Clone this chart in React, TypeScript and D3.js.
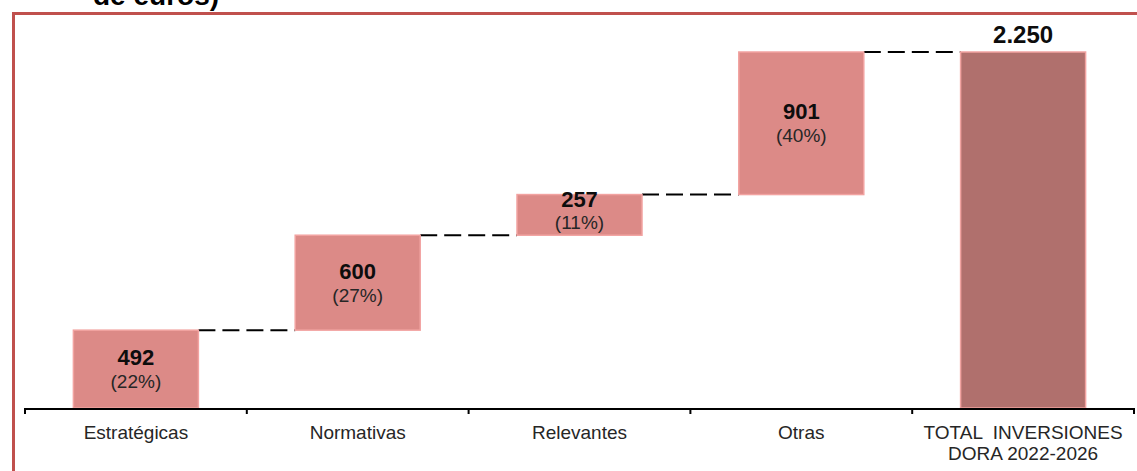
import React from 'react';
import * as d3 from 'd3';

// categories and values
const categories = ['Estratégicas', 'Normativas', 'Relevantes', 'Otras', 'TOTAL'];
const stepValues = [492, 600, 257, 901];
const stepShares = ['(22%)', '(27%)', '(11%)', '(40%)'];
const totalValue = 2250;
const categoryLabels = [['Estratégicas'], ['Normativas'], ['Relevantes'], ['Otras'], ['TOTAL  INVERSIONES', 'DORA 2022-2026']];
const titleTail = 'de euros)';

const W = 1137;
const H = 471;
const baseY = 408;
const fontFamily = '"Liberation Sans", Arial, sans-serif';

const esLocale = d3.formatLocale({ decimal: ',', thousands: '.', grouping: [3], currency: ['', '€'] });
const fmtTotal = esLocale.format(',d');

const App = () => {
    const x = d3
        .scaleBand<string>()
        .domain(categories)
        .range([25, 1134])
        .paddingInner(0.4364)
        .paddingOuter(0.2182);

    const y = d3.scaleLinear().domain([0, totalValue]).range([baseY, 52]);

    // cumulative start / end for each floating bar
    let running = 0;
    const steps = stepValues.map((v, i) => {
        const start = running;
        running += v;
        return { cat: categories[i], start, end: running, value: v, share: stepShares[i] };
    });

    const step = x.step();
    const x0 = x.range()[0];
    const boundaries = d3.range(categories.length + 1).map((i) => x0 + i * step);

    const barFill = '#DC8A87';
    const barStroke = '#F2A3A1';
    const totalFill = '#B0706D';

    // connector lines between tops of consecutive bars
    const connectors = steps.map((s, i) => {
        const nextCat = categories[i + 1];
        return {
            x1: (x(s.cat) as number) + x.bandwidth(),
            x2: x(nextCat) as number,
            y: y(s.end),
        };
    });

    return (
        <svg
            width={W}
            height={H}
            style={{ position: 'absolute', left: 0, top: 0, background: '#fff' }}
            fontFamily={fontFamily}
        >
            {/* cut-off title (only its lower edge shows in the reference) */}
            <text x={93} y={5} fontSize={28} fontWeight="bold" fill="#000">
                {titleTail}
            </text>

            {/* frame */}
            <line x1={12} x2={W} y1={13.5} y2={13.5} stroke="#C0504D" strokeWidth={3} />
            <line x1={13.5} x2={13.5} y1={12} y2={H} stroke="#C0504D" strokeWidth={3} />

            {/* connectors */}
            {connectors.map((c, i) => (
                <line
                    key={'c' + i}
                    x1={c.x1}
                    x2={c.x2}
                    y1={c.y}
                    y2={c.y}
                    stroke="#000"
                    strokeWidth={2}
                    strokeDasharray="17,7"
                />
            ))}

            {/* floating bars */}
            {steps.map((s) => {
                const bx = x(s.cat) as number;
                const top = y(s.end);
                const bottom = y(s.start);
                const cy = (top + bottom) / 2;
                const small = bottom - top < 60;
                const cx = bx + x.bandwidth() / 2;
                return (
                    <g key={s.cat}>
                        <rect
                            x={bx}
                            y={top}
                            width={x.bandwidth()}
                            height={bottom - top}
                            fill={barFill}
                            stroke={barStroke}
                            strokeWidth={1.5}
                        />
                        <text
                            x={cx}
                            y={small ? cy - 8 : cy - 4}
                            textAnchor="middle"
                            fontSize={22}
                            fontWeight="bold"
                            fill="#0d0d0d"
                        >
                            {s.value}
                        </text>
                        <text x={cx} y={small ? cy + 14 : cy + 19} textAnchor="middle" fontSize={19} fill="#262626">
                            {s.share}
                        </text>
                    </g>
                );
            })}

            {/* total bar */}
            <rect
                x={x('TOTAL') as number}
                y={y(totalValue)}
                width={x.bandwidth()}
                height={baseY - y(totalValue)}
                fill={totalFill}
                stroke={barStroke}
                strokeWidth={1.5}
            />
            <text
                x={(x('TOTAL') as number) + x.bandwidth() / 2}
                y={y(totalValue) - 9}
                textAnchor="middle"
                fontSize={24}
                fontWeight="bold"
                fill="#0d0d0d"
            >
                {fmtTotal(totalValue)}
            </text>

            {/* axis */}
            <line x1={boundaries[0]} x2={boundaries[boundaries.length - 1]} y1={baseY + 1} y2={baseY + 1} stroke="#000" strokeWidth={2} />
            {boundaries.map((b, i) => (
                <line key={'t' + i} x1={b} x2={b} y1={baseY} y2={baseY + 6} stroke="#000" strokeWidth={2} />
            ))}
            {categories.map((cat, i) => (
                <text
                    key={'l' + cat}
                    x={(x(cat) as number) + x.bandwidth() / 2}
                    y={439}
                    textAnchor="middle"
                    fontSize={19}
                    fill="#262626"
                    style={{ whiteSpace: 'pre' }}
                >
                    {categoryLabels[i].map((line, j) => (
                        <tspan key={j} x={(x(cat) as number) + x.bandwidth() / 2} dy={j === 0 ? 0 : 21}>
                            {line}
                        </tspan>
                    ))}
                </text>
            ))}
        </svg>
    );
};

export default App;
